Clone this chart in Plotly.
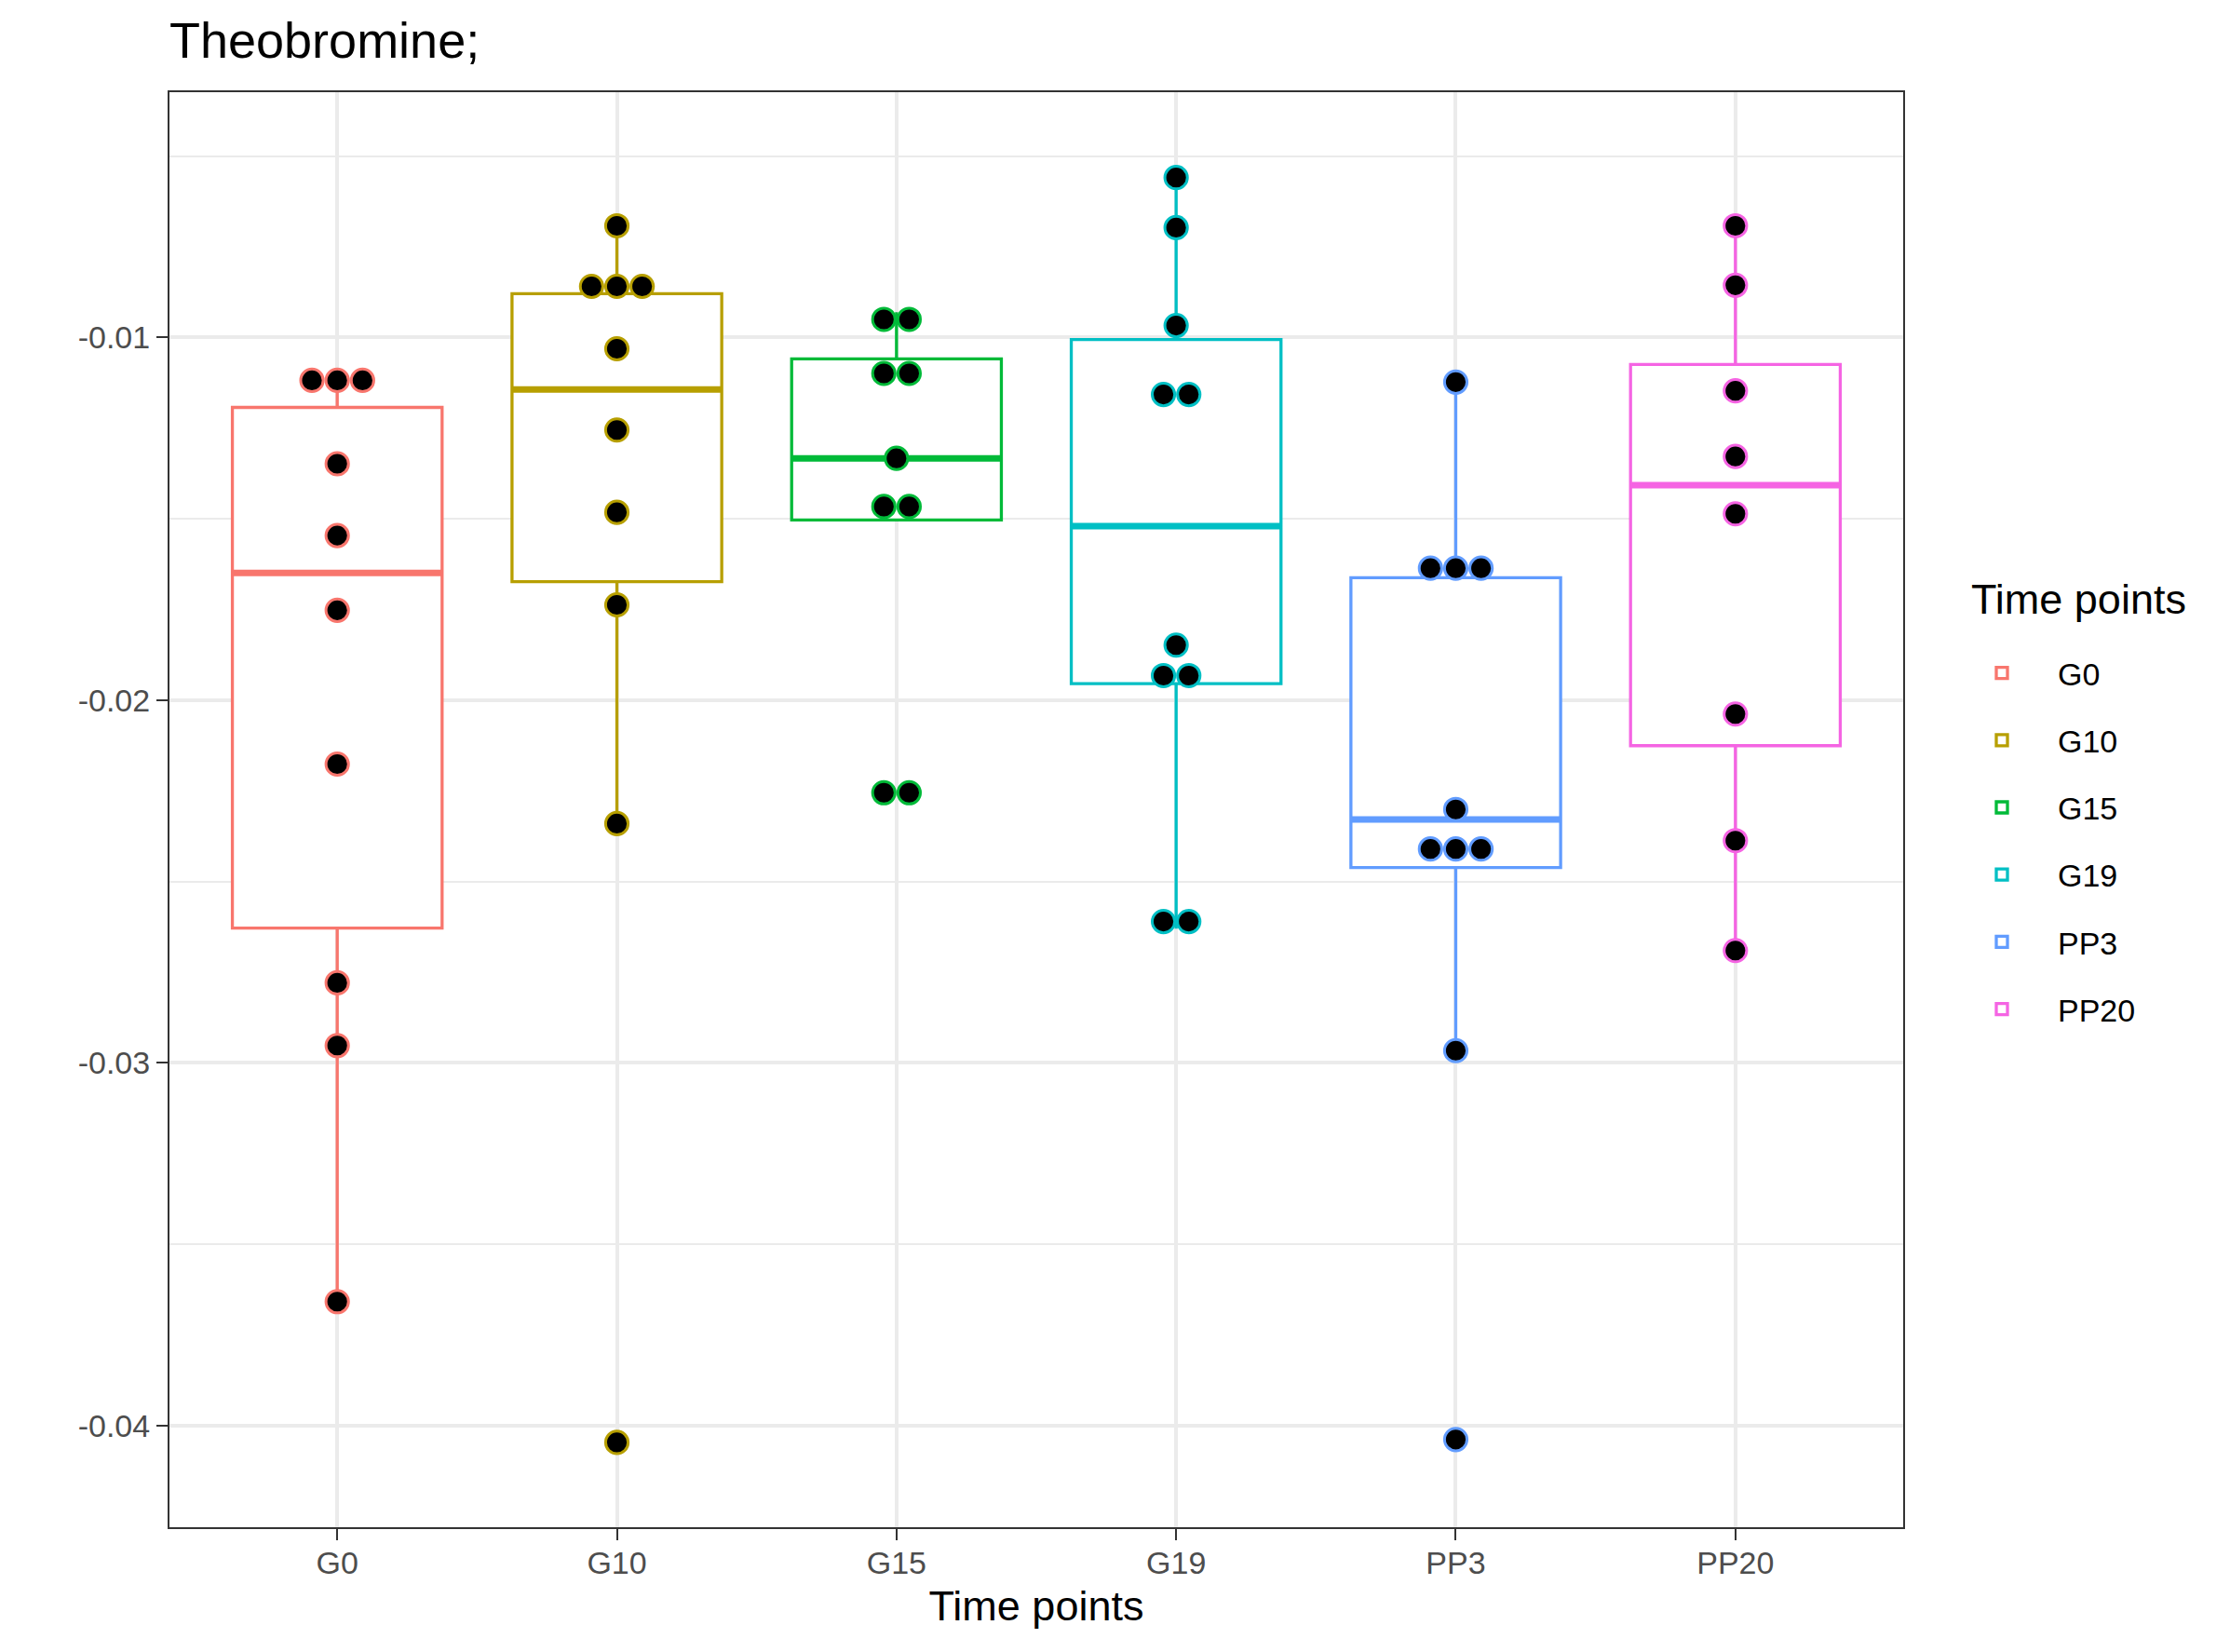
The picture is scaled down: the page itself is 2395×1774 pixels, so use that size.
import numpy as np
import plotly.graph_objects as go

# ---------------- data ----------------
categories = ["G0", "G10", "G15", "G19", "PP3", "PP20"]
colors = ["#F8766D", "#B79F00", "#00BA38", "#00BFC4", "#619CFF", "#F564E3"]

g0 = [-0.01095, -0.01120, -0.01141, -0.01348, -0.01546, -0.01752, -0.02176, -0.02779, -0.02952, -0.03658]
g10 = [-0.00692, -0.00823, -0.00874, -0.00895, -0.01031, -0.01255, -0.01482, -0.01737, -0.02340, -0.04046]
g15 = [-0.00930, -0.00970, -0.01059, -0.01139, -0.01333, -0.01429, -0.01503, -0.02230, -0.02280]
g19 = [-0.00559, -0.00697, -0.00967, -0.01122, -0.01192, -0.01848, -0.01888, -0.01976, -0.02590, -0.02630]
pp3 = [-0.01123, -0.01582, -0.01653, -0.01690, -0.02301, -0.02357, -0.02455, -0.02463, -0.02966, -0.04038]
pp20 = [-0.00692, -0.00856, -0.01147, -0.01328, -0.01486, -0.02038, -0.02387, -0.02690]
series = [g0, g10, g15, g19, pp3, pp20]

y_tick_vals = [-0.04, -0.03, -0.02, -0.01]
y_tick_text = ["-0.04", "-0.03", "-0.02", "-0.01"]
y_minor_vals = [-0.035, -0.025, -0.015, -0.005]

title_text = "Theobromine;"
x_title = "Time points"
legend_title = "Time points"

# ---------------- layout geometry (page body has an 8px margin) ----------------
W, H = 2387, 1766
ML, MR, MT, MB = 174, 351, 91, 134
PW, PH = W - ML - MR, H - MT - MB
Y_RANGE = [-0.042798, -0.003237]
X_RANGE = [-0.6, 5.6]
FONT = "Liberation Sans, Arial, Helvetica, sans-serif"


def px_x(px):
    return (px - ML) / PW


def px_y(px):
    return 1 - (px - MT) / PH


# ggplot-like dotplot binning (dotdensity), default binwidth = range/30
all_vals = np.concatenate([np.asarray(s) for s in series])
binwidth = (all_vals.max() - all_vals.min()) / 30.0
dotsize = 0.6
dot_px = dotsize * binwidth * PH / (Y_RANGE[1] - Y_RANGE[0])
dx = dot_px / (PW / (X_RANGE[1] - X_RANGE[0]))


def dot_bins(vals, bw):
    v = sorted(vals)
    bins = []
    end = -np.inf
    for x in v:
        if x >= end:
            bins.append([x])
            end = x + bw
        else:
            bins[-1].append(x)
    return [((min(b) + max(b)) / 2.0, len(b)) for b in bins]


def box_stats(vals):
    a = np.asarray(vals)
    q1, med, q3 = np.percentile(a, [25, 50, 75])  # R type 7
    iqr = q3 - q1
    lo = a[a >= q1 - 1.5 * iqr].min()
    hi = a[a <= q3 + 1.5 * iqr].max()
    return q1, med, q3, min(lo, q1), max(hi, q3)


fig = go.Figure()

# boxes (ggplot-style statistics)
for i, (cat, col, vals) in enumerate(zip(categories, colors, series)):
    q1, med, q3, lf, uf = box_stats(vals)
    fig.add_trace(go.Box(
        x=[i], q1=[q1], median=[med], q3=[q3], lowerfence=[lf], upperfence=[uf],
        name=cat, legendgroup=cat, showlegend=True, boxpoints=False,
        width=0.75, whiskerwidth=0,
        fillcolor="white", line=dict(color=col, width=3.3),
        hoverinfo="skip",
    ))

# thicker median bars (ggplot fatten = 2)
for i, (cat, col, vals) in enumerate(zip(categories, colors, series)):
    med = float(np.median(vals))
    fig.add_trace(go.Scatter(
        x=[i - 0.375, i + 0.375], y=[med, med], mode="lines",
        line=dict(color=col, width=7), legendgroup=cat,
        showlegend=False, hoverinfo="skip",
    ))

# stacked dots
for i, (cat, col, vals) in enumerate(zip(categories, colors, series)):
    xs, ys = [], []
    for center, n in dot_bins(vals, binwidth):
        for k in range(n):
            xs.append(i + (k - (n - 1) / 2.0) * dx)
            ys.append(center)
    fig.add_trace(go.Scatter(
        x=xs, y=ys, mode="markers", legendgroup=cat, showlegend=False,
        marker=dict(color="black", size=dot_px - 3, line=dict(color=col, width=3)),
        hoverinfo="skip",
    ))

fig.update_layout(
    width=W, height=H,
    margin=dict(l=ML, r=MR, t=MT, b=MB, autoexpand=False),
    paper_bgcolor="white", plot_bgcolor="white",
    font=dict(family=FONT, color="black"),
    title=dict(text=title_text, font=dict(size=54, color="black", family=FONT),
               xref="paper", x=0, xanchor="left",
               yref="container", y=1 - 35 / H, yanchor="middle"),
    showlegend=True,
    legend=dict(
        font=dict(size=34, color="black"),
        x=px_x(2082), xanchor="left",
        y=px_y(686), yanchor="top",
        tracegroupgap=25, traceorder="grouped",
        bgcolor="rgba(0,0,0,0)", itemwidth=110,
    ),
    annotations=[dict(
        text=legend_title, xref="paper", yref="paper",
        x=px_x(2107), y=px_y(635.5), xanchor="left", yanchor="middle",
        showarrow=False, font=dict(size=45, color="black", family=FONT),
    )],
    boxmode="overlay",
)

fig.update_xaxes(
    range=X_RANGE, tickmode="array", tickvals=list(range(len(categories))),
    ticktext=categories, showgrid=True, gridcolor="#EBEBEB", gridwidth=4,
    zeroline=False, showline=True, linecolor="#333333", linewidth=2, mirror=True,
    ticks="outside", ticklen=12, tickwidth=2, tickcolor="#333333",
    ticklabelstandoff=-5,
    tickfont=dict(size=34, color="#4D4D4D", family=FONT),
    title=dict(text=x_title, font=dict(size=45, color="black", family=FONT), standoff=13),
)
fig.update_yaxes(
    range=Y_RANGE, tickmode="array", tickvals=y_tick_vals, ticktext=y_tick_text,
    showgrid=True, gridcolor="#EBEBEB", gridwidth=4,
    minor=dict(tickvals=y_minor_vals, showgrid=True, gridcolor="#EBEBEB", gridwidth=2.2, ticks=""),
    zeroline=False, showline=True, linecolor="#333333", linewidth=2, mirror=True,
    ticks="outside", ticklen=12, tickwidth=2, tickcolor="#333333",
    tickfont=dict(size=34, color="#4D4D4D", family=FONT),
)

fig.write_html("out.html")
